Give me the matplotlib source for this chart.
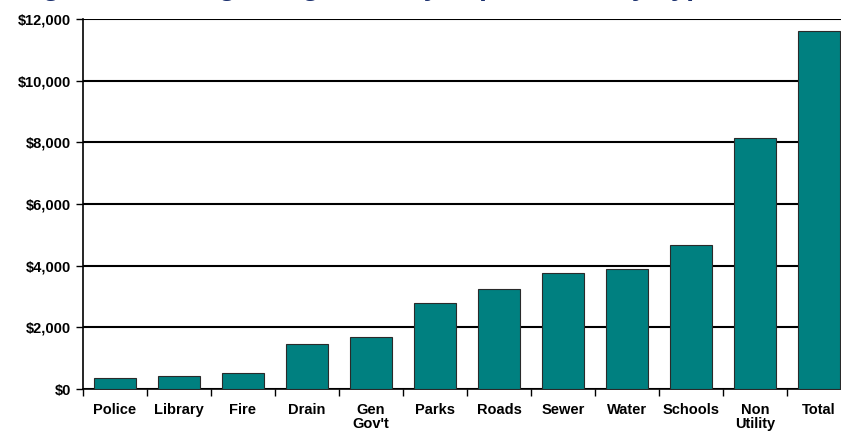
import matplotlib
matplotlib.use("Agg")
import matplotlib.pyplot as plt
import numpy as np
from matplotlib.ticker import FuncFormatter, MultipleLocator, FixedLocator

categories = ["Police", "Library", "Fire", "Drain", "Gen\nGov't", "Parks", "Roads",
              "Sewer", "Water", "Schools", "Non\nUtility", "Total"]
values = [370, 420, 520, 1460, 1690, 2790, 3240, 3760, 3890, 4670, 8140, 11610]
title = "Figure 3: Average Single-Family Impact Fees by Type, 2008"

plt.rcParams['font.family'] = ['Liberation Sans', 'DejaVu Sans']

fig = plt.figure(figsize=(8.41, 4.32), dpi=100)
ax = fig.add_axes([83/841, 43/432, 768/841, 370/432])

# title mostly cut off above the figure (as in the reference), only descenders visible
fig.text(20/841, 1 + 4.5/432, title, fontsize=20, fontweight='bold', style='italic',
         color='#1a2f6e', va='baseline', ha='left')

x = np.arange(len(categories))
ax.set_axisbelow(True)
ax.yaxis.grid(True, color='black', linewidth=1.5)
ax.bar(x, values, width=0.67, color='#008080', edgecolor='#2a2a2a', linewidth=0.8, zorder=3)

ax.set_xlim(-0.5, len(categories) - 0.5)
ax.set_ylim(0, 12000)
ax.yaxis.set_major_locator(MultipleLocator(2000))
ax.yaxis.set_major_formatter(FuncFormatter(lambda v, p: f"${v:,.0f}"))

ax.set_xticks(x)
ax.set_xticklabels(categories, fontweight='bold', fontsize=10.5, linespacing=1.0, va='top')
ax.tick_params(axis='x', which='major', length=0, pad=10)
ax.xaxis.set_minor_locator(FixedLocator(np.arange(-0.5, len(categories), 1.0)))
ax.tick_params(axis='x', which='minor', length=5, width=1, direction='out', color='black')
ax.tick_params(axis='y', which='major', length=5, width=1, direction='out', color='black', labelsize=10.5)
for lab in ax.get_yticklabels():
    lab.set_fontweight('bold')

for s in ['top', 'right']:
    ax.spines[s].set_visible(False)
ax.spines['left'].set_linewidth(1.2)
ax.spines['bottom'].set_linewidth(1.2)

fig.savefig("out.png", dpi=100)
